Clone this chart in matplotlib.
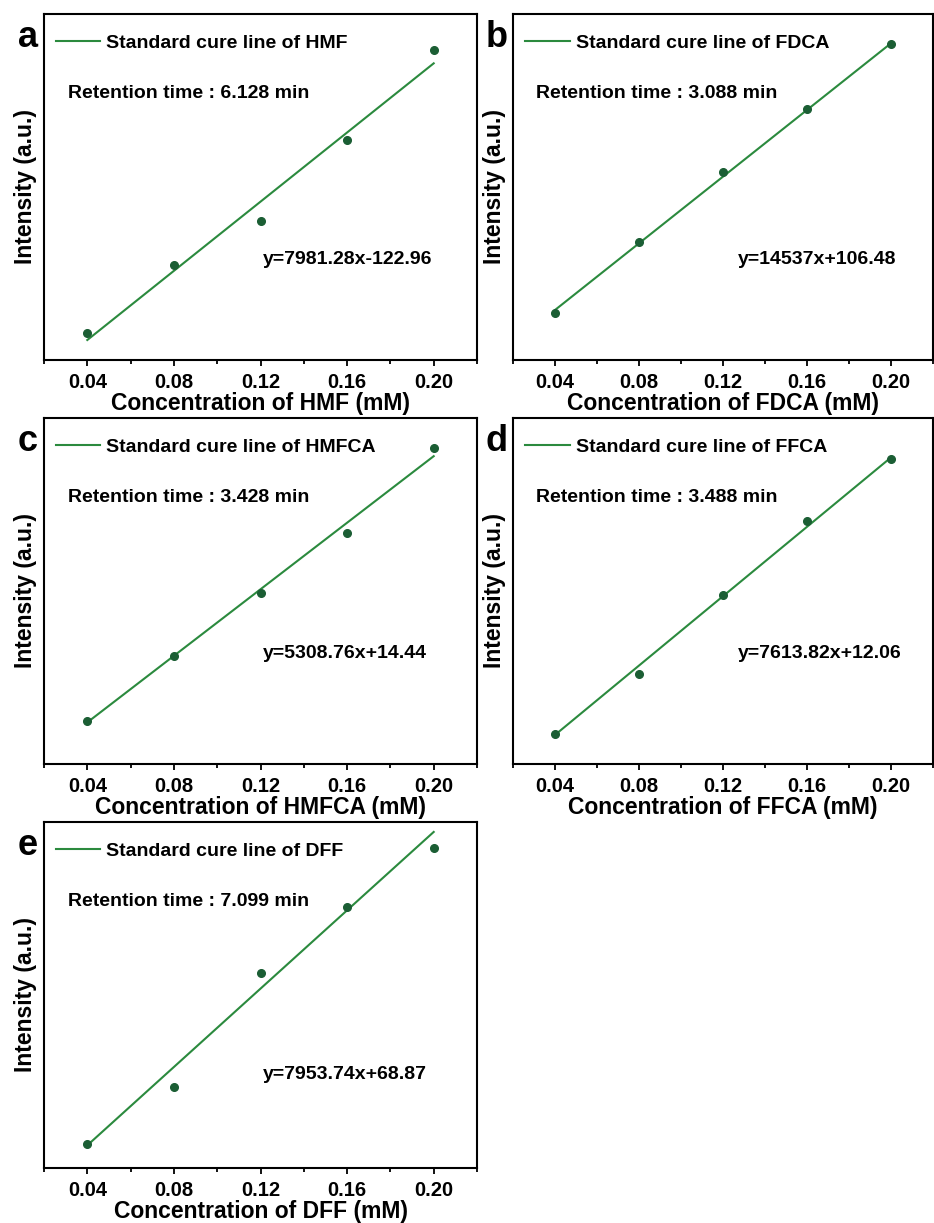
import numpy as np
import matplotlib
matplotlib.use("Agg")
import matplotlib.pyplot as plt
from matplotlib.ticker import MultipleLocator

plt.rcParams['font.family'] = ['Liberation Sans', 'DejaVu Sans']
plt.rcParams['font.weight'] = 'bold'

# --- data ---
conc = [0.04, 0.08, 0.12, 0.16, 0.20]

compounds = ["HMF", "FDCA", "HMFCA", "FFCA", "DFF"]
letters = ["a", "b", "c", "d", "e"]
retention = ["6.128", "3.088", "3.428", "3.488", "7.099"]
slopes = [7981.28, 14537, 5308.76, 7613.82, 7953.74]
intercepts = [-122.96, 106.48, 14.44, 12.06, 68.87]
eq_labels = ["y=7981.28x-122.96", "y=14537x+106.48", "y=5308.76x+14.44",
             "y=7613.82x+12.06", "y=7953.74x+68.87"]

int_hmf = [227, 542, 747, 1119, 1535]
int_fdca = [665, 1284, 1894, 2441, 3008]
int_hmfca = [232, 439, 641, 832, 1101]
int_ffca = [321, 585, 929, 1257, 1529]
int_dff = [394, 624, 1086, 1356, 1595]
intensities = [int_hmf, int_fdca, int_hmfca, int_ffca, int_dff]

ylims = [(104, 1701), (252, 3269), (94, 1198), (189, 1708), (295, 1700)]

# --- layout (pixels of the 934x1223 figure) ---
W, H = 934, 1223
lefts = [44, 513, 44, 513, 44]
widths = [433, 420, 433, 420, 433]
tops = [14, 14, 418, 418, 822]
ax_h = 346
eq_pos = [(0.506, 0.29), (0.536, 0.29), (0.506, 0.32), (0.536, 0.32), (0.506, 0.27)]

line_col = "#2b8a3e"
dot_col = "#1b5e34"

fig = plt.figure(figsize=(W / 100, H / 100), dpi=100)

for i in range(5):
    rect = [lefts[i] / W, 1 - (tops[i] + ax_h) / H, widths[i] / W, ax_h / H]
    ax = fig.add_axes(rect)

    xs = np.array([conc[0], conc[-1]])
    ax.plot(xs, slopes[i] * xs + intercepts[i], color=line_col, lw=1.5,
            label=f"Standard cure line of {compounds[i]}")
    ax.plot(conc, intensities[i], 'o', color=dot_col, ms=5.5, zorder=3)

    ax.set_xlim(0.02, 0.22)
    ax.set_ylim(*ylims[i])
    ax.xaxis.set_major_locator(MultipleLocator(0.04))
    ax.xaxis.set_minor_locator(MultipleLocator(0.02))
    ax.xaxis.set_major_formatter(plt.FuncFormatter(lambda v, p: f"{v:.2f}"))
    ax.set_yticks([])
    ax.tick_params(axis='x', which='major', direction='out', length=4, width=1.3,
                   labelsize=14.5, pad=5.5)
    ax.tick_params(axis='x', which='minor', direction='out', length=3, width=1.3)
    for lab in ax.get_xticklabels():
        lab.set_fontweight('bold')
    for sp in ax.spines.values():
        sp.set_linewidth(1.5)

    ax.set_xlabel(f"Concentration of {compounds[i]} (mM)", fontsize=16.5,
                  fontweight='bold', labelpad=-0.3)
    ax.set_ylabel("Intensity (a.u.)", fontsize=16.5, fontweight='bold', labelpad=5)

    ax.legend(loc='upper left', bbox_to_anchor=(-0.02, 1.0), frameon=False,
              prop={'size': 14, 'weight': 'bold'}, handlelength=2.3,
              handletextpad=0.3, borderaxespad=0, borderpad=1.05)

    ax.text(0.055, 0.77, f"Retention time : {retention[i]} min",
            transform=ax.transAxes, fontsize=14, fontweight='bold',
            ha='left', va='center')
    ax.text(eq_pos[i][0], eq_pos[i][1], eq_labels[i], transform=ax.transAxes,
            fontsize=14, fontweight='bold', ha='left', va='center')

    ax.annotate(letters[i], xy=(0, 1), xycoords='axes fraction',
                xytext=(-16, -33), textcoords='offset pixels',
                fontsize=26, fontweight='bold', ha='center', va='baseline')

fig.savefig("out.png", dpi=100)
